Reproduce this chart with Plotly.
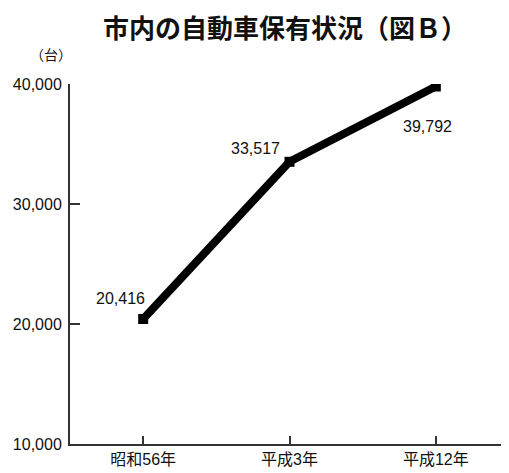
import plotly.graph_objects as go

categories = ["昭和56年", "平成3年", "平成12年"]
values = [20416, 33517, 39792]
value_labels = ["20,416", "33,517", "39,792"]
y_ticks = [10000, 20000, 30000, 40000]
y_tick_labels = ["10,000", "20,000", "30,000", "40,000"]

FONT = "Liberation Sans, Noto Sans CJK JP"
CJK = "Noto Sans CJK JP"

fig = go.Figure()
fig.add_trace(go.Scatter(
    x=categories, y=values, mode="lines+markers",
    line=dict(color="black", width=8),
    marker=dict(symbol="square", size=10, color="black"),
    showlegend=False, hoverinfo="skip",
))

# value labels
offsets = [(-23, 21), (-34, 13), (-8, -40)]
for c, v, t, (dx, dy) in zip(categories, values, value_labels, offsets):
    fig.add_annotation(x=c, y=v, text=t, showarrow=False, xshift=dx, yshift=dy,
                       font=dict(family=FONT, size=16, color="#111"))

fig.add_annotation(text="（台）", xref="paper", yref="paper", x=-0.043, y=1.083,
                   xanchor="center", yanchor="middle",
                   showarrow=False, font=dict(family=CJK, size=14, color="#111"))

# the page body has an 8px margin, so the figure is sized to fit the window
fig.update_layout(
    width=501, height=465,
    margin=dict(l=62, r=0, t=76, b=29),
    paper_bgcolor="white", plot_bgcolor="white",
    title=dict(text="<b>市内の自動車保有状況（図Ｂ）</b>", x=0.553, xanchor="center",
               y=0.955, yanchor="middle", automargin=False,
               font=dict(family=CJK, size=26, color="#111")),
    font=dict(family=FONT, size=16, color="#111"),
    xaxis=dict(type="category", range=[-0.5, 2.5], showgrid=False, zeroline=False,
               automargin=False,
               showline=True, linecolor="#333", linewidth=2,
               ticks="inside", ticklen=8, tickwidth=1.5, tickcolor="#333",
               tickfont=dict(family=FONT, size=16, color="#111")),
    yaxis=dict(range=[10000, 40000], showgrid=False, zeroline=False,
               automargin=False, ticklabelstandoff=3,
               showline=True, linecolor="#333", linewidth=2,
               tickvals=y_ticks, ticktext=y_tick_labels,
               ticks="inside", ticklen=10, tickwidth=1.5, tickcolor="#333",
               tickfont=dict(family=FONT, size=16, color="#111")),
)

fig.write_html("out.html")
